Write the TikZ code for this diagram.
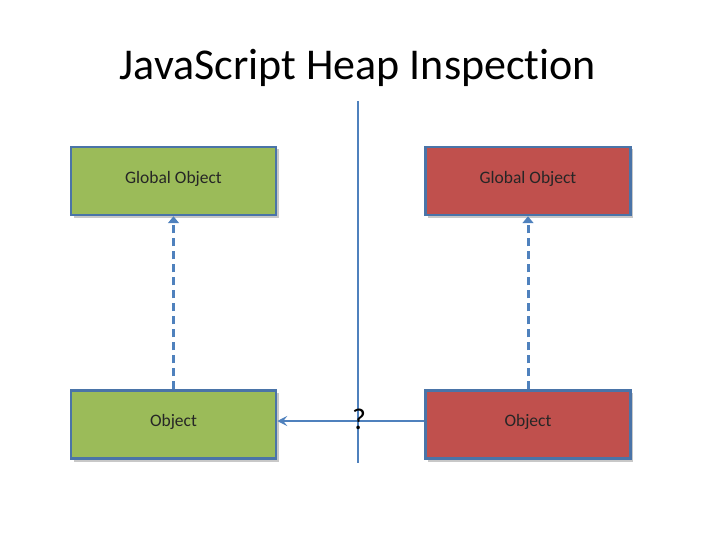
\documentclass[tikz,border=0pt]{standalone}
\usepackage{fontspec}
\setmainfont{Carlito}[Ligatures=NoCommon]
\usetikzlibrary{arrows.meta}
\definecolor{edgeblue}{HTML}{4F81BD}
\definecolor{boxline}{HTML}{4A74A8}
\definecolor{greenfill}{HTML}{9BBB59}
\definecolor{redfill}{HTML}{C0504D}
\definecolor{shadowgray}{HTML}{C8C8C8}
\tikzset{
  objbox/.style={draw=boxline, line width=2.5pt, minimum width=205pt, minimum height=68pt, inner sep=0pt, font=\fontsize{17.5}{20}\selectfont, text=black!85},
  greenbox/.style={objbox, fill=greenfill},
  redbox/.style={objbox, fill=redfill},
  dasharrow/.style={draw=edgeblue, line width=3pt, dash pattern=on 8pt off 5pt, -{Triangle[length=7pt,width=11pt]}},
  solidarrow/.style={draw=edgeblue, line width=2.2pt, -{Stealth[length=10pt,width=10pt,inset=4pt]}},
  divider/.style={draw=edgeblue, line width=2pt}
}
\begin{document}
\begin{tikzpicture}[x=1pt,y=-1pt]
\useasboundingbox (0,0) rectangle (720,540);
\node[font=\fontsize{44}{48}\selectfont] (title) at (358,68) {JavaScript Heap Inspection};
\coordinate (vtop) at (358,101);
\coordinate (vbot) at (358,463);
\draw[divider] (vtop) -- (vbot);
\foreach \x/\y in {173.5/181, 528/181, 173.5/424.5, 528/424.5}{
  \fill[shadowgray] (\x-100,\y-32) rectangle (\x+105,\y+37);
}
\node[greenbox] (lg) at (173.5,181) {\raisebox{8pt}{Global Object}};
\node[redbox] (rg) at (528,181) {\raisebox{8pt}{Global Object}};
\node[greenbox] (lo) at (173.5,424.5) {\raisebox{8pt}{Object}};
\node[redbox] (ro) at (528,424.5) {\raisebox{8pt}{Object}};
\draw[dasharrow] (lo.north) -- (lg.south);
\draw[dasharrow] (ro.north) -- (rg.south);
\draw[solidarrow] ([yshift=3.5pt]ro.west) -- ([yshift=3.5pt]lo.east);
\node[font=\fontsize{30}{32}\selectfont] (q) at (359,419) {?};
\end{tikzpicture}
\end{document}
